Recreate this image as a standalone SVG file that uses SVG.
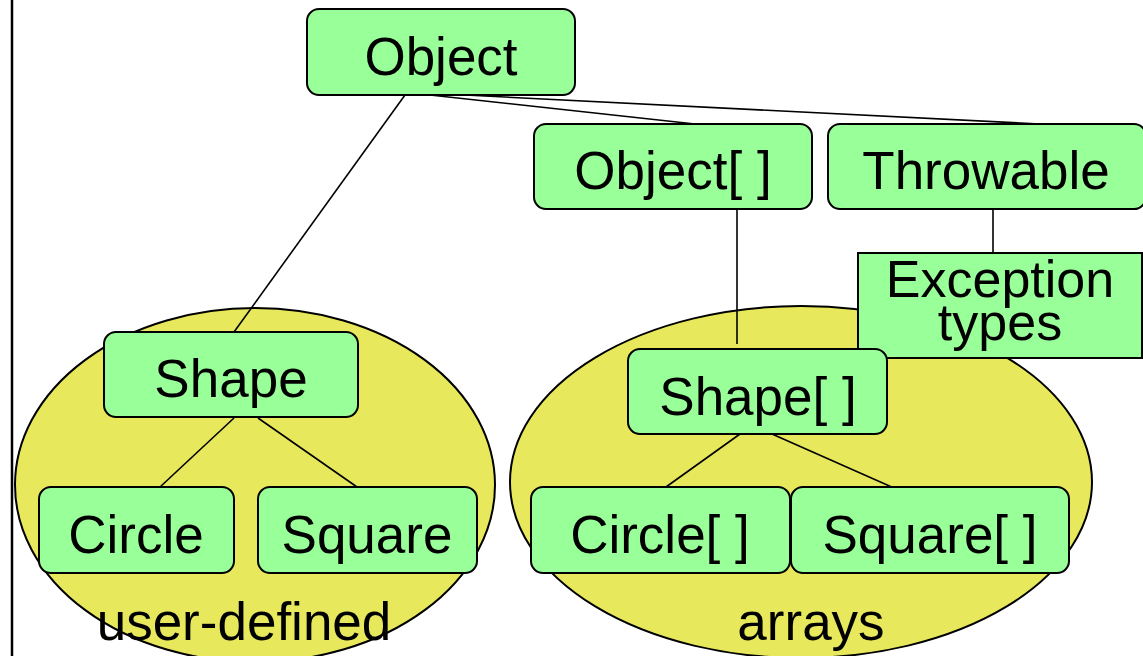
<svg xmlns="http://www.w3.org/2000/svg" width="1143" height="656" viewBox="0 0 1143 656">
<style>
.n{fill:#99FF99;stroke:#000;stroke-width:2}
.e{fill:#E8E85C;stroke:#000;stroke-width:2}
.t{font-family:"Liberation Sans",Arial,sans-serif;font-size:53px;fill:#000;text-anchor:middle}
.s{font-size:52px}
.c line{stroke:#000;stroke-width:1.6}
</style>
<rect width="1143" height="656" fill="#fff"/>
<line x1="12" y1="0" x2="12" y2="656" stroke="#000" stroke-width="2.5"/>
<g id="group-user-defined">
<ellipse class="e" cx="255" cy="485" rx="240" ry="177"/>
</g>
<g id="group-arrays">
<ellipse class="e" cx="801" cy="482" rx="291" ry="176"/>
</g>
<g id="connectors" class="c">
<line x1="405" y1="95" x2="234" y2="332"/>
<line x1="430" y1="95" x2="695" y2="124"/>
<line x1="425" y1="93" x2="1040" y2="124"/>
<line x1="737" y1="209" x2="737" y2="344"/>
<line x1="993" y1="209" x2="993" y2="253"/>
<line x1="234" y1="418" x2="160" y2="487"/>
<line x1="258" y1="418" x2="357" y2="487"/>
<line x1="740" y1="434" x2="659" y2="492"/>
<line x1="772" y1="434" x2="903" y2="492"/>
</g>
<g id="object"><rect class="n" x="307" y="9" width="268" height="86" rx="12"/><text class="t" x="441" y="75">Object</text></g>
<g id="object-array"><rect class="n" x="534" y="124" width="278" height="85" rx="12"/><text class="t" x="673" y="189">Object[ ]</text></g>
<g id="throwable"><rect class="n" x="828" y="124" width="318" height="85" rx="12"/><text class="t" x="986" y="189">Throwable</text></g>
<g id="exception-types"><rect class="n" x="858" y="253" width="284" height="105"/><text class="t s" x="1000" y="297">Exception</text><text class="t s" x="1000" y="340">types</text></g>
<g id="shape"><rect class="n" x="104" y="332" width="254" height="85" rx="12"/><text class="t" x="231" y="397">Shape</text></g>
<g id="circle"><rect class="n" x="39" y="487" width="195" height="86" rx="12"/><text class="t" x="136" y="553">Circle</text></g>
<g id="square"><rect class="n" x="258" y="487" width="219" height="86" rx="12"/><text class="t" x="367" y="553">Square</text></g>
<g id="shape-array"><rect class="n" x="628" y="349" width="259" height="85" rx="12"/><text class="t" x="758" y="415">Shape[ ]</text></g>
<g id="circle-array"><rect class="n" x="531" y="487" width="259" height="86" rx="12"/><text class="t" x="660" y="553">Circle[ ]</text></g>
<g id="square-array"><rect class="n" x="791" y="487" width="278" height="86" rx="12"/><text class="t" x="930" y="553">Square[ ]</text></g>
<text class="t" x="244" y="640">user-defined</text>
<text class="t" x="811" y="640">arrays</text>
</svg>
